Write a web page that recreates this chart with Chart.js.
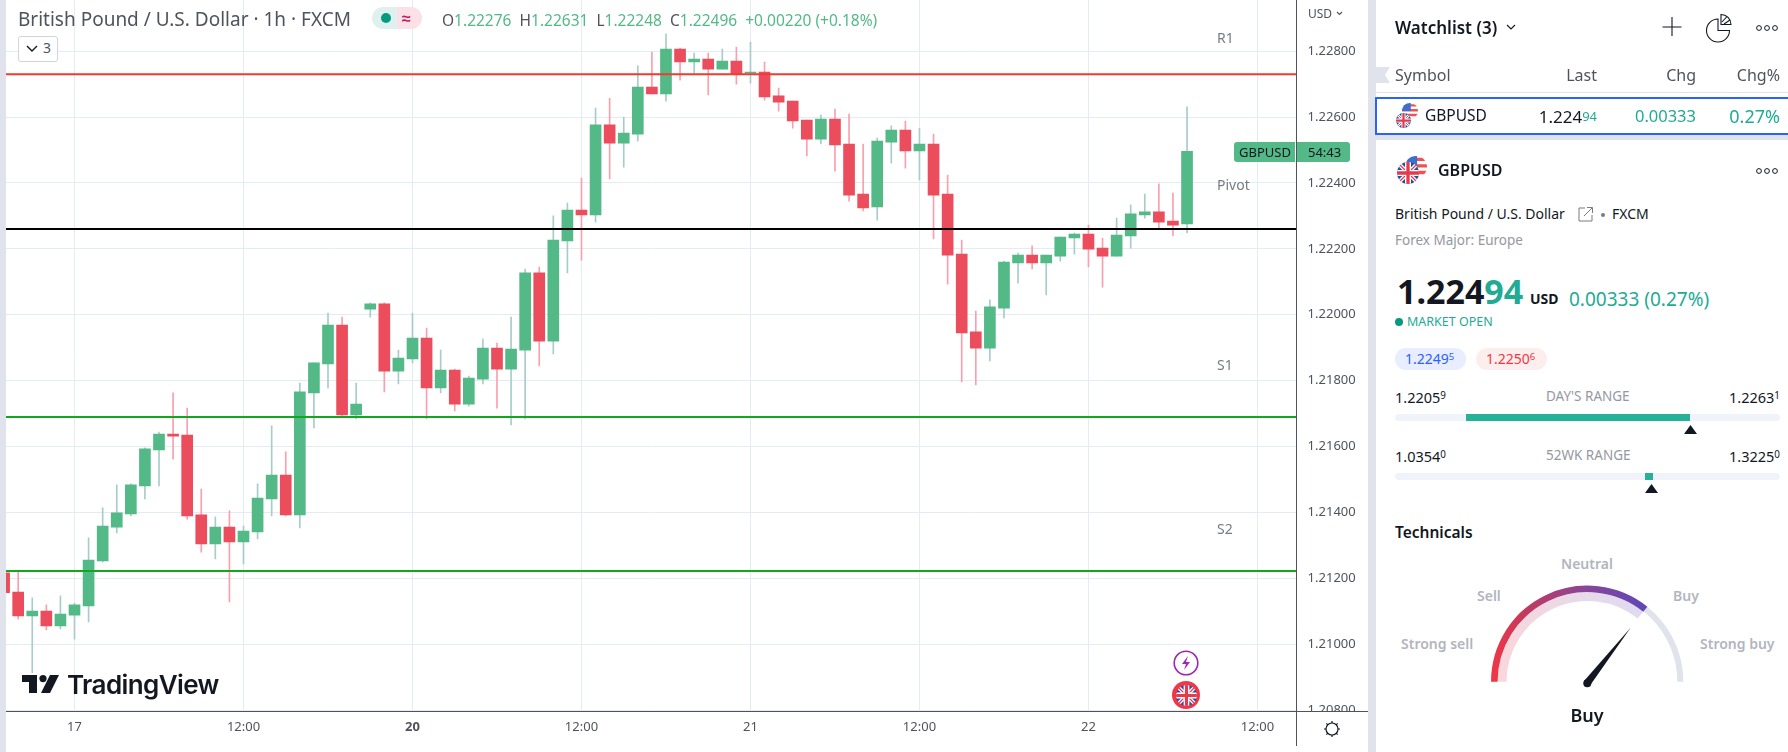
<!DOCTYPE html>
<html>
<head>
<meta charset="utf-8">
<title>GBPUSD 1h</title>
<script src="https://cdn.jsdelivr.net/npm/chart.js@4"></script>
<style>
  html, body { margin: 0; padding: 0; background: #fff; }
  body { width: 1788px; height: 752px; position: relative; overflow: hidden; font-family: "Noto Sans", sans-serif; color: #131722; }
  canvas { position: absolute; left: 0; top: 0; }
  .t { position: absolute; white-space: nowrap; transform: translateY(-50%); line-height: 1; }
  .box { position: absolute; }
  svg { position: absolute; overflow: visible; }
  sup { font-size: 0.68em; vertical-align: 0.38em; line-height: 0; }
  .up { color: #22ab94; }
  .soft { color: #b2b5be; font-weight: 600; font-size: 14px; }
</style>
</head>
<body>
<div class="box" style="left:0;top:0;width:6px;height:752px;background:#e0e3eb"></div>
<canvas id="chart" width="1370" height="752"></canvas>

<!-- eixos -->
<div class="box" style="left:6px;top:711px;width:1362px;height:1px;background:#50535e"></div>
<div class="box" style="left:1296px;top:0;width:1px;height:746px;background:#50535e"></div>
<div class="box" style="left:1368px;top:0;width:8px;height:752px;background:#e0e3eb"></div>

<!-- cabecalho do grafico -->
<div class="t" style="left:18px;top:19px;font-size:19px;color:#50535e" id="titleLine">British Pound / U.S. Dollar · 1h · FXCM</div>
<div class="box" style="left:372px;top:7px;width:25px;height:22px;background:#dff1ee;border-radius:11px 0 0 11px"></div>
<div class="box" style="left:397px;top:7px;width:25px;height:22px;background:#fce0e8;border-radius:0 11px 11px 0"></div>
<div class="box" style="left:381px;top:13px;width:10px;height:10px;background:#089981;border-radius:5px"></div>
<div class="t" style="left:402px;top:18px;font-size:16px;font-weight:700;color:#c2185b">≈</div>
<div class="t" style="left:442px;top:21px;font-size:15.5px;color:#53b987" id="ohlcLine"></div>
<div class="box" style="left:18px;top:36px;width:38px;height:24px;border:1px solid #d1d4dc;border-radius:3px;background:#fff"></div>
<svg style="left:26px;top:45px" width="12" height="8"><path d="M1 1 L6 6 L11 1" fill="none" stroke="#131722" stroke-width="1.4"/></svg>
<div class="t" style="left:43px;top:48px;font-size:14px;color:#50535e">3</div>

<!-- rotulos dos pivots -->
<div class="t" style="left:1217px;top:38px;font-size:14px;color:#787b86">R1</div>
<div class="t" style="left:1217px;top:185px;font-size:14px;color:#787b86">Pivot</div>
<div class="t" style="left:1217px;top:365px;font-size:14px;color:#787b86">S1</div>
<div class="t" style="left:1217px;top:529px;font-size:14px;color:#787b86">S2</div>

<!-- etiqueta de preco -->
<div class="box" style="left:1234px;top:142px;width:61px;height:20px;background:#53b987;border-radius:3px 0 0 3px"></div>
<div class="t" style="left:1239px;top:152px;font-size:13px;color:#131722">GBPUSD</div>
<div class="box" style="left:1297px;top:142px;width:53px;height:20px;background:#53b987;border-radius:0 3px 3px 0"></div>
<div class="t" style="left:1308px;top:152px;font-size:13px;color:#131722">54:43</div>
<div class="t" style="left:1308px;top:14px;font-size:12px;color:#50535e">USD</div>
<svg style="left:1336px;top:11px" width="7" height="5"><path d="M1 1 L3.5 3.5 L6 1" fill="none" stroke="#50535e" stroke-width="1.1"/></svg>

<!-- logo -->
<svg style="left:22px;top:675px" width="38" height="19" viewBox="0 0 38 19"><path d="M0 0 H15 V18 H7 V7 H0 Z" fill="#131722"/><circle cx="21" cy="3.6" r="3.6" fill="#131722"/><path d="M28 0 H37 L28 18 H19 Z" fill="#131722"/></svg>
<div class="t" style="left:67px;top:685px;font-size:26px;font-weight:600;color:#131722;font-family:Inter,sans-serif;letter-spacing:-0.6px">TradingView</div>

<!-- eventos -->
<svg style="left:1173px;top:650px" width="26" height="26"><circle cx="13" cy="13" r="11.8" fill="#fff" stroke="#9c27b0" stroke-width="1.6"/><path d="M15 6 L9 14 H13 L11 20 L17 12 H13 Z" fill="#9c27b0"/></svg>
<div id="eventFlag"></div>

<!-- engrenagem -->
<svg style="left:1323px;top:720px" width="18" height="18" viewBox="0 0 18 18"><circle cx="9" cy="9" r="6" fill="none" stroke="#131722" stroke-width="1.2"/><path d="M9 1 V3 M9 15 V17 M1 9 H3 M15 9 H17 M3.4 3.4 L4.8 4.8 M13.2 13.2 L14.6 14.6 M3.4 14.6 L4.8 13.2 M13.2 4.8 L14.6 3.4" stroke="#131722" stroke-width="1.2"/></svg>

<!-- watchlist -->
<div class="t" style="left:1395px;top:27px;font-size:17px;font-weight:600">Watchlist (3)</div>
<svg style="left:1506px;top:24px" width="10" height="7"><path d="M1 1 L5 5 L9 1" fill="none" stroke="#131722" stroke-width="1.1"/></svg>
<svg style="left:1662px;top:17px" width="20" height="20"><path d="M10 0 V19 M0.5 10 H19.5" stroke="#131722" stroke-width="1.1"/></svg>
<svg style="left:1705px;top:13px" width="28" height="28" viewBox="0 0 28 28"><path d="M13 6 A 11.5 11.5 0 1 0 24.5 17.5 H13 Z" fill="none" stroke="#131722" stroke-width="1.1"/><path d="M16 1.5 A 10 10 0 0 1 26 11.5 H16 Z" fill="none" stroke="#131722" stroke-width="1.1"/><path d="M17 9 L22 3.5 M19 11 L25 7" stroke="#131722" stroke-width="1.1"/></svg>
<svg style="left:1755px;top:23px" width="26" height="10"><circle cx="4" cy="5" r="2.4" fill="none" stroke="#131722"/><circle cx="12" cy="5" r="2.4" fill="none" stroke="#131722"/><circle cx="20" cy="5" r="2.4" fill="none" stroke="#131722"/></svg>
<svg style="left:1375px;top:67px" width="15" height="16"><path d="M0 0 H15 L10 8 L15 16 H0 Z" fill="#e0e3eb"/></svg>
<div class="t" style="left:1395px;top:75px;font-size:16px;color:#50535e">Symbol</div>
<div class="t" style="right:191px;top:75px;font-size:16px;color:#50535e">Last</div>
<div class="t" style="right:92px;top:75px;font-size:16px;color:#50535e">Chg</div>
<div class="t" style="right:8px;top:75px;font-size:16px;color:#50535e">Chg%</div>
<div class="box" style="left:1375px;top:92px;width:413px;height:1px;background:#e0e3eb"></div>
<div class="box" style="left:1376px;top:134px;width:412px;height:6px;background:#e0e3eb"></div>
<div class="box" style="left:1375px;top:97px;width:413px;border:2px solid #2962ff;border-right:none;height:34px"></div>
<div id="pairSmall"></div>
<div class="t" style="left:1425px;top:116px;font-size:15.5px">GBPUSD</div>
<div class="t" style="right:191px;top:116px;font-size:17px">1.224<span class="up" style="font-size:13px;vertical-align:2px">94</span></div>
<div class="t up" style="right:92px;top:116px;font-size:16.5px">0.00333</div>
<div class="t up" style="right:8px;top:116px;font-size:18px">0.27%</div>

<!-- detalhes -->
<div id="pairBig"></div>
<div class="t" style="left:1438px;top:170px;font-size:16px;font-weight:600">GBPUSD</div>
<svg style="left:1755px;top:166px" width="26" height="10"><circle cx="4" cy="5" r="2.4" fill="none" stroke="#131722"/><circle cx="12" cy="5" r="2.4" fill="none" stroke="#131722"/><circle cx="20" cy="5" r="2.4" fill="none" stroke="#131722"/></svg>
<div class="t" style="left:1395px;top:214px;font-size:14px">British Pound / U.S. Dollar</div>
<svg style="left:1578px;top:206px" width="16" height="16"><path d="M7 2 H1 V15 H14 V9" fill="none" stroke="#787b86" stroke-width="1"/><path d="M6 10 L14 2 M9 1.5 H14.5 V7" fill="none" stroke="#787b86" stroke-width="1"/></svg>
<div class="box" style="left:1601px;top:213px;width:4px;height:4px;border-radius:2px;background:#787b86"></div>
<div class="t" style="left:1612px;top:214px;font-size:14px">FXCM</div>
<div class="t" style="left:1395px;top:241px;font-size:13.5px;color:#9598a1">Forex Major: Europe</div>
<div class="t" style="left:1397px;top:291px;font-size:34px;font-weight:700">1.224<span class="up">94</span></div>
<div class="t" style="left:1530px;top:299px;font-size:14px;font-weight:700">USD</div>
<div class="t up" style="left:1569px;top:299px;font-size:19px">0.00333 (0.27%)</div>
<div class="box" style="left:1395px;top:318px;width:8px;height:8px;border-radius:4px;background:#089981"></div>
<div class="t up" style="left:1407px;top:322px;font-size:12.5px">MARKET OPEN</div>
<div class="box" style="left:1395px;top:348px;width:71px;height:22px;border-radius:11px;background:#e8edff"></div>
<div class="t" style="left:1405px;top:359px;font-size:14px;color:#2962ff">1.2249<sup>5</sup></div>
<div class="box" style="left:1476px;top:348px;width:71px;height:22px;border-radius:11px;background:#fdeeee"></div>
<div class="t" style="left:1486px;top:359px;font-size:14px;color:#f23645">1.2250<sup>6</sup></div>

<!-- faixas -->
<div class="t" style="left:1395px;top:397px;font-size:14.5px">1.2205<sup>9</sup></div>
<div class="t" style="left:1546px;top:397px;font-size:13.5px;color:#9598a1">DAY'S RANGE</div>
<div class="t" style="right:8px;top:397px;font-size:14.5px">1.2263<sup>1</sup></div>
<div class="box" style="left:1395px;top:414px;width:385px;height:7px;border-radius:4px;background:#f0f3fa"></div>
<div class="box" style="left:1466px;top:414px;width:224px;height:7px;background:#26b298"></div>
<svg style="left:1684px;top:425px" width="13" height="9"><path d="M6.5 0 L13 9 H0 Z" fill="#131722"/></svg>
<div class="t" style="left:1395px;top:456px;font-size:14.5px">1.0354<sup>0</sup></div>
<div class="t" style="left:1546px;top:456px;font-size:13.5px;color:#9598a1">52WK RANGE</div>
<div class="t" style="right:8px;top:456px;font-size:14.5px">1.3225<sup>0</sup></div>
<div class="box" style="left:1395px;top:473px;width:385px;height:7px;border-radius:4px;background:#f0f3fa"></div>
<div class="box" style="left:1645px;top:473px;width:8px;height:7px;background:#26b298"></div>
<svg style="left:1645px;top:484px" width="13" height="9"><path d="M6.5 0 L13 9 H0 Z" fill="#131722"/></svg>

<!-- technicals -->
<div class="t" style="left:1395px;top:533px;font-size:15.5px;font-weight:600">Technicals</div>
<div class="t soft" style="left:1587px;top:564px;transform:translate(-50%,-50%)">Neutral</div>
<div class="t soft" style="left:1477px;top:596px">Sell</div>
<div class="t soft" style="left:1673px;top:596px">Buy</div>
<div class="t soft" style="left:1401px;top:644px">Strong sell</div>
<div class="t soft" style="left:1700px;top:644px">Strong buy</div>
<svg style="left:0;top:0" width="1788" height="752">
  <defs>
    <linearGradient id="gaugeStrong" gradientUnits="userSpaceOnUse" x1="1491" y1="0" x2="1646" y2="0">
      <stop offset="0" stop-color="#f23645"/><stop offset="0.22" stop-color="#c2395f"/><stop offset="0.6" stop-color="#8a4596"/><stop offset="1" stop-color="#5e48b8"/>
    </linearGradient>
  </defs>
  <path d="M1494.3 681.7 A 93 93 0 0 1 1680.3 681.7" fill="none" stroke="#e0e3eb" stroke-width="6"/>
  <path d="M1502 681.7 A 85.5 85.5 0 0 1 1640.5 615" fill="none" stroke="url(#gaugeStrong)" stroke-opacity="0.2" stroke-width="9"/>
  <path d="M1494.3 681.7 A 93 93 0 0 1 1645.3 609.2" fill="none" stroke="url(#gaugeStrong)" stroke-width="6.5"/>
  <path d="M1584 681 L1630.8 627.5 L1590 685.5 Z" fill="#131722"/>
  <circle cx="1587.3" cy="683.3" r="4" fill="#131722"/>
</svg>
<div class="t" style="left:1587px;top:715px;font-size:18px;font-weight:600;transform:translate(-50%,-50%)">Buy</div>

<script>
// =======================
// Dados
// =======================
const opens = [
  1.21217, 1.21159, 1.21086, 1.21101, 1.21056, 1.21089, 1.21117, 1.21253, 1.21356, 1.21396,
  1.21481, 1.21590, 1.21638, 1.21635, 1.21393, 1.21305, 1.21356, 1.21311, 1.21341, 1.21441,
  1.21514, 1.21393, 1.21763, 1.21851, 1.21969, 1.21696, 1.22017, 1.22033, 1.21829, 1.21866,
  1.21929, 1.21778, 1.21832, 1.21729, 1.21805, 1.21899, 1.21835, 1.21893, 1.22127, 1.21920,
  1.22224, 1.22318, 1.22303, 1.22576, 1.22521, 1.22548, 1.22691, 1.22670, 1.22806, 1.22767,
  1.22776, 1.22745, 1.22770, 1.22733, 1.22736, 1.22664, 1.22648, 1.22591, 1.22533, 1.22594,
  1.22518, 1.22366, 1.22327, 1.22524, 1.22560, 1.22497, 1.22518, 1.22366, 1.22184, 1.21948,
  1.21899, 1.22020, 1.22157, 1.22181, 1.22157, 1.22178, 1.22233, 1.22245, 1.22202, 1.22178,
  1.22239, 1.22303, 1.22312, 1.22284, 1.22276
];
const highs = [
  1.21217, 1.21220, 1.21141, 1.21120, 1.21147, 1.21125, 1.21323, 1.21414, 1.21484, 1.21487,
  1.21596, 1.21644, 1.21763, 1.21717, 1.21471, 1.21387, 1.21405, 1.21359, 1.21487, 1.21663,
  1.21584, 1.21793, 1.21854, 1.22005, 1.21993, 1.21793, 1.22036, 1.22036, 1.21893, 1.22005,
  1.21960, 1.21893, 1.21835, 1.21814, 1.21926, 1.21914, 1.21993, 1.22139, 1.22145, 1.22300,
  1.22339, 1.22415, 1.22627, 1.22657, 1.22600, 1.22755, 1.22797, 1.22852, 1.22809, 1.22794,
  1.22794, 1.22806, 1.22812, 1.22827, 1.22767, 1.22688, 1.22648, 1.22591, 1.22606, 1.22624,
  1.22609, 1.22518, 1.22536, 1.22573, 1.22588, 1.22566, 1.22548, 1.22424, 1.22227, 1.22011,
  1.22045, 1.22163, 1.22187, 1.22209, 1.22181, 1.22236, 1.22248, 1.22272, 1.22233, 1.22293,
  1.22333, 1.22366, 1.22397, 1.22369, 1.22631
];
const lows = [
  1.21157, 1.21077, 1.20914, 1.21044, 1.21047, 1.21016, 1.21068, 1.21250, 1.21338, 1.21390,
  1.21441, 1.21481, 1.21562, 1.21380, 1.21280, 1.21259, 1.21129, 1.21244, 1.21320, 1.21390,
  1.21390, 1.21353, 1.21657, 1.21778, 1.21690, 1.21684, 1.21993, 1.21766, 1.21790, 1.21854,
  1.21684, 1.21763, 1.21708, 1.21723, 1.21790, 1.21717, 1.21666, 1.21684, 1.21845, 1.21881,
  1.22127, 1.22166, 1.22281, 1.22412, 1.22448, 1.22527, 1.22670, 1.22648, 1.22712, 1.22733,
  1.22667, 1.22745, 1.22700, 1.22703, 1.22651, 1.22618, 1.22566, 1.22482, 1.22518, 1.22436,
  1.22345, 1.22315, 1.22287, 1.22460, 1.22445, 1.22409, 1.22230, 1.22093, 1.21796, 1.21787,
  1.21860, 1.21990, 1.22096, 1.22139, 1.22060, 1.22163, 1.22184, 1.22145, 1.22084, 1.22178,
  1.22202, 1.22293, 1.22263, 1.22239, 1.22248
];
const closes = [
  1.21157, 1.21086, 1.21101, 1.21056, 1.21092, 1.21120, 1.21256, 1.21359, 1.21399, 1.21484,
  1.21593, 1.21638, 1.21632, 1.21390, 1.21305, 1.21356, 1.21311, 1.21344, 1.21444, 1.21514,
  1.21393, 1.21766, 1.21854, 1.21969, 1.21696, 1.21729, 1.22033, 1.21829, 1.21869, 1.21929,
  1.21778, 1.21832, 1.21729, 1.21808, 1.21899, 1.21835, 1.21896, 1.22127, 1.21920, 1.22227,
  1.22318, 1.22303, 1.22576, 1.22521, 1.22551, 1.22691, 1.22670, 1.22806, 1.22767, 1.22776,
  1.22745, 1.22770, 1.22730, 1.22736, 1.22661, 1.22645, 1.22588, 1.22533, 1.22594, 1.22515,
  1.22363, 1.22324, 1.22527, 1.22560, 1.22497, 1.22518, 1.22363, 1.22181, 1.21945, 1.21899,
  1.22024, 1.22160, 1.22181, 1.22157, 1.22181, 1.22236, 1.22245, 1.22199, 1.22178, 1.22242,
  1.22306, 1.22312, 1.22281, 1.22272, 1.22496
];

const priceTicks = [1.208, 1.21, 1.212, 1.214, 1.216, 1.218, 1.22, 1.222, 1.224, 1.226, 1.228];
const timeTickIndex = [5, 17, 29, 41, 53, 65, 77, 89];
const timeTickLabels = ["17", "12:00", "20", "12:00", "21", "12:00", "22", "12:00"];

const levelR1 = 1.22730;
const levelPivot = 1.22260;
const levelS1 = 1.21690;
const levelS2 = 1.21223;

const ohlcLegend = [["O", "1.22276"], ["H", "1.22631"], ["L", "1.22248"], ["C", "1.22496"]];
const ohlcChange = "+0.00220 (+0.18%)";

// limites visiveis dos eixos
const X_MIN = 0.135, X_MAX = 91.78;
const Y_MIN = 1.20797, Y_MAX = 1.22955;

const UP = "#53b987", DOWN = "#eb4d5c";
const UP_WICK = "#a7ccca", DOWN_WICK = "#f9a0ae";

// =======================
// Cabecalho e icones
// =======================
document.getElementById("ohlcLine").innerHTML =
  ohlcLegend.map(p => `<span style="color:#50535e">${p[0]}</span>${p[1]}&nbsp;&nbsp;`).join("") + ohlcChange;

function flagUK(x, y, r) {
  const id = "c" + Math.round(x) + "_" + Math.round(y);
  return `<svg style="left:${x - r}px;top:${y - r}px" width="${2 * r}" height="${2 * r}" viewBox="-10 -10 20 20">
    <clipPath id="${id}"><circle r="10"/></clipPath>
    <g clip-path="url(#${id})"><rect x="-10" y="-10" width="20" height="20" fill="#1f4fa8"/>
    <path d="M-10 -10 L10 10 M10 -10 L-10 10" stroke="#fff" stroke-width="3.6"/>
    <path d="M-10 -10 L10 10 M10 -10 L-10 10" stroke="#e8394a" stroke-width="1.2"/>
    <path d="M0 -10 V10 M-10 0 H10" stroke="#fff" stroke-width="5.5"/>
    <path d="M0 -10 V10 M-10 0 H10" stroke="#e8394a" stroke-width="3"/></g></svg>`;
}
function flagUS(x, y, r) {
  const id = "u" + Math.round(x) + "_" + Math.round(y);
  return `<svg style="left:${x - r}px;top:${y - r}px" width="${2 * r}" height="${2 * r}" viewBox="-10 -10 20 20">
    <clipPath id="${id}"><circle r="10"/></clipPath>
    <g clip-path="url(#${id})"><rect x="-10" y="-10" width="20" height="20" fill="#fff"/>
    <path d="M-10 -7 H10 M-10 -1 H10 M-10 5 H10" stroke="#ef5350" stroke-width="3"/>
    <rect x="-10" y="-10" width="11" height="10" fill="#3b6fd4"/></g></svg>`;
}
document.getElementById("pairSmall").innerHTML = flagUS(1410, 111, 8) + flagUK(1403, 120, 7.5);
document.getElementById("pairBig").innerHTML = flagUS(1416, 167, 11) + flagUK(1408, 173, 11);
document.getElementById("eventFlag").innerHTML =
  `<div class="box" style="left:1172px;top:681px;width:28px;height:28px;border-radius:14px;background:#f23645"></div>` + flagUK(1186, 695, 10.5);

// =======================
// Grafico
// =======================
const wickPoints = opens.map((o, i) => ({ x: i, y: [lows[i], highs[i]] }));
const bodyPoints = opens.map((o, i) => ({ x: i, y: [o, closes[i]] }));

function levelLine(value, color) {
  return {
    type: "line",
    data: [{ x: X_MIN, y: value }, { x: X_MAX, y: value }],
    borderColor: color,
    borderWidth: 2,
    pointRadius: 0,
    order: 0
  };
}

// pinta a faixa abaixo do grafico para cortar o "1.20800" como no original
const cutBottomLabel = {
  id: "cutBottomLabel",
  beforeDatasetsDraw(chart) {
    const c = chart.ctx;
    c.save();
    c.fillStyle = "#fff";
    c.fillRect(chart.chartArea.right + 1, chart.chartArea.bottom, 100, 60);
    c.restore();
  }
};

new Chart(document.getElementById("chart").getContext("2d"), {
  type: "bar",
  data: {
    datasets: [
      levelLine(levelR1, "#f23a2e"),
      levelLine(levelPivot, "#000000"),
      levelLine(levelS1, "#12a81e"),
      levelLine(levelS2, "#12a81e"),
      {
        data: bodyPoints,
        grouped: false,
        barThickness: 11,
        backgroundColor: opens.map((o, i) => closes[i] >= o ? UP : DOWN),
        order: 1
      },
      {
        data: wickPoints,
        grouped: false,
        barThickness: 1,
        backgroundColor: opens.map((o, i) => closes[i] >= o ? UP_WICK : DOWN_WICK),
        order: 2
      }
    ]
  },
  options: {
    responsive: false,
    animation: false,
    devicePixelRatio: 1,
    layout: { autoPadding: false, padding: { left: 6, right: 0, top: 0, bottom: 0 } },
    plugins: { legend: { display: false }, tooltip: { enabled: false } },
    scales: {
      x: {
        type: "linear",
        offset: false,
        min: X_MIN,
        max: X_MAX,
        afterFit(scale) { scale.height = 40.7; scale.paddingLeft = 0; scale.paddingRight = 0; },
        afterBuildTicks(scale) { scale.ticks = timeTickIndex.map(v => ({ value: v })); },
        grid: { offset: false, color: "#e3ecf2", drawTicks: false },
        border: { display: false },
        ticks: {
          z: 1,
          autoSkip: false,
          maxRotation: 0,
          padding: 8,
          color: "#50535e",
          font: ctx => ({ family: "Noto Sans", size: 13, weight: ctx.index === 2 ? "bold" : "normal" }),
          callback: (v, i) => timeTickLabels[i]
        }
      },
      y: {
        position: "right",
        min: Y_MIN,
        max: Y_MAX,
        beginAtZero: false,
        // sem folga para os rotulos: a area do grafico vai ate o topo da janela
        afterFit(scale) { scale.width = 73.4; scale.paddingTop = 0; scale.paddingBottom = 0; },
        afterBuildTicks(scale) { scale.ticks = priceTicks.map(v => ({ value: v })); },
        grid: { color: "#e3ecf2", drawTicks: false },
        border: { display: false },
        ticks: {
          autoSkip: false,
          padding: 11,
          color: "#50535e",
          font: { family: "Noto Sans", size: 13 },
          callback: v => Number(v).toFixed(5)
        }
      }
    }
  },
  plugins: [cutBottomLabel]
});
</script>
</body>
</html>
